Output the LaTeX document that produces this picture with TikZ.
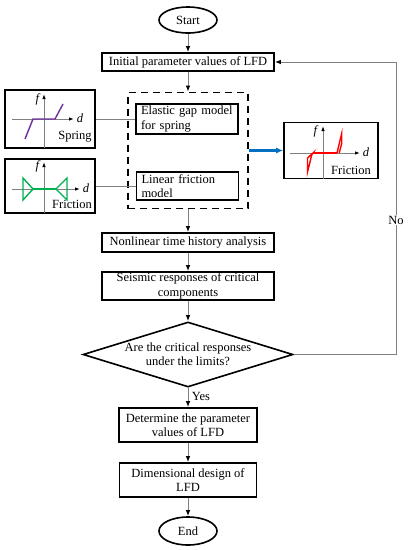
\documentclass[tikz,border=0pt]{standalone}
\usepackage{fontspec}
\setmainfont{Liberation Serif}
\usepackage{xcolor}
\usepackage{tikz}
\usetikzlibrary{arrows.meta,shapes.geometric}
\definecolor{springpurple}{RGB}{112,48,160}
\definecolor{fricgreen}{RGB}{0,176,80}
\definecolor{fricred}{RGB}{255,0,0}
\definecolor{modelblue}{RGB}{0,112,192}
\tikzset{
  txt/.style={font=\fontsize{12.5}{14.5}\selectfont},
  procbox/.style={txt,draw=black,line width=1.6pt,rectangle,inner sep=0pt,align=center},
  modelbox/.style={procbox,text width=92pt,align=left},
  termnode/.style={txt,draw=black,line width=1.6pt,ellipse,inner sep=0pt},
  decision/.style={draw=black,line width=1.6pt,diamond,inner sep=0pt},
  graphbox/.style={draw=black,line width=1.6pt,rectangle,inner sep=0pt},
  flow/.style={draw=gray,line width=1pt,-{Latex[black,length=6pt,width=4.5pt]}},
  link/.style={draw=gray,line width=1pt},
  axis/.style={draw=gray,line width=0.9pt,-{Latex[black,length=5pt,width=3.5pt]}},
}
\begin{document}
\begin{tikzpicture}[x=1pt,y=-1pt]
\useasboundingbox (0,0) rectangle (409,550);

\node[termnode,minimum width=58pt,minimum height=26pt] (start) at (188,20) {Start};
\node[procbox,minimum width=172pt,minimum height=18pt] (init) at (188,62) {Initial parameter values of LFD};
\node[draw=black,line width=1.6pt,dash pattern=on 7pt off 5pt,minimum width=120pt,minimum height=116pt,inner sep=0pt] (models) at (188,150.5) {};
\node[modelbox,minimum width=102pt,minimum height=30pt] (elastic) at (187,119) {Elastic gap model\\for spring};
\node[modelbox,minimum width=102pt,minimum height=28pt] (linfric) at (187.5,186) {Linear friction\\model};
\node[procbox,minimum width=172pt,minimum height=19pt] (nonlin) at (188,242.5) {Nonlinear time history analysis};
\node[procbox,minimum width=172pt,minimum height=28pt] (seismic) at (188,286) {Seismic responses of critical\\components};
\node[decision,minimum width=210pt,minimum height=65pt] (decide) at (188,354.5) {};
\node[txt,align=center] (decidetext) at (188,354) {Are the critical responses\\under the limits?};
\node[procbox,minimum width=138pt,minimum height=34pt] (determine) at (188,425) {Determine the parameter\\values of LFD};
\node[procbox,minimum width=137pt,minimum height=34pt] (dimdesign) at (188,480) {Dimensional design of\\LFD};
\node[termnode,minimum width=58pt,minimum height=28pt] (end) at (188,531) {End};

\node[graphbox,minimum width=90pt,minimum height=58pt] (spring) at (50,119) {};
\node[graphbox,minimum width=90pt,minimum height=54pt] (fricl) at (50,186) {};
\node[graphbox,minimum width=94pt,minimum height=56pt] (fricr) at (331,150.5) {};

\draw[flow] (start) -- (init);
\draw[flow] (init) -- (models);
\draw[flow] (models) -- (nonlin);
\draw[flow] (nonlin) -- (seismic);
\draw[flow] (seismic) -- (decide);
\draw[flow] (decide) -- node[txt,anchor=west,pos=0.45] (yes) {Yes} (determine);
\draw[flow] (determine) -- (dimdesign);
\draw[flow] (dimdesign) -- (end);
\coordinate (back) at (396,354.5);
\draw[flow] (decide.east) -- (back) |- (init.east);
\node[txt,fill=white,inner sep=1pt] (no) at (396,220) {No};
\draw[link] (spring.east) -- (elastic.west);
\draw[link] (fricl.east) -- (linfric.west);
\draw[draw=modelblue,line width=2.6pt,-{Latex[length=7pt,width=6pt]}] (models.east) -- (fricr.west);

\draw[axis] (44,148) -- (44,94);
\draw[axis] (12,119) -- (74,119);
\node[txt] (springf) at (38,99) {\textit{f}};
\node[txt] (springd) at (80,118) {\textit{d}};
\draw[springpurple,line width=1.4pt] (25,139)--(33,119)--(55,119)--(63,104);
\node[txt] (springlbl) at (75,137) {Spring};

\draw[axis] (44,213) -- (44,162);
\draw[axis] (12,189) -- (80,189);
\node[txt] (fricf) at (38,166) {\textit{f}};
\node[txt] (fricd) at (86,188) {\textit{d}};
\draw[fricgreen,line width=1.4pt] (33,189)--(56,189);
\draw[fricgreen,line width=1.4pt] (23,178)--(23,200)--(33,189)--cycle;
\draw[fricgreen,line width=1.4pt] (67,178)--(67,200)--(56,189)--cycle;
\node[txt] (friclbl) at (72,204) {Friction};

\draw[axis] (323,178.5) -- (323,126);
\draw[axis] (290,153) -- (360,153);
\node[txt] (fricrf) at (316,131) {\textit{f}};
\node[txt] (fricrd) at (366,152) {\textit{d}};
\draw[fricred,line width=1.4pt] (313,153)--(337,153);
\draw[fricred,line width=1.4pt] (337,153)--(341.7,133.5)--(341.7,143.5)--(339.2,153);
\draw[fricred,line width=1.4pt] (313,153)--(307.5,158)--(307.5,172)--(311.7,155)--cycle;
\node[txt] (fricrlbl) at (351,170) {Friction};
\end{tikzpicture}
\end{document}
